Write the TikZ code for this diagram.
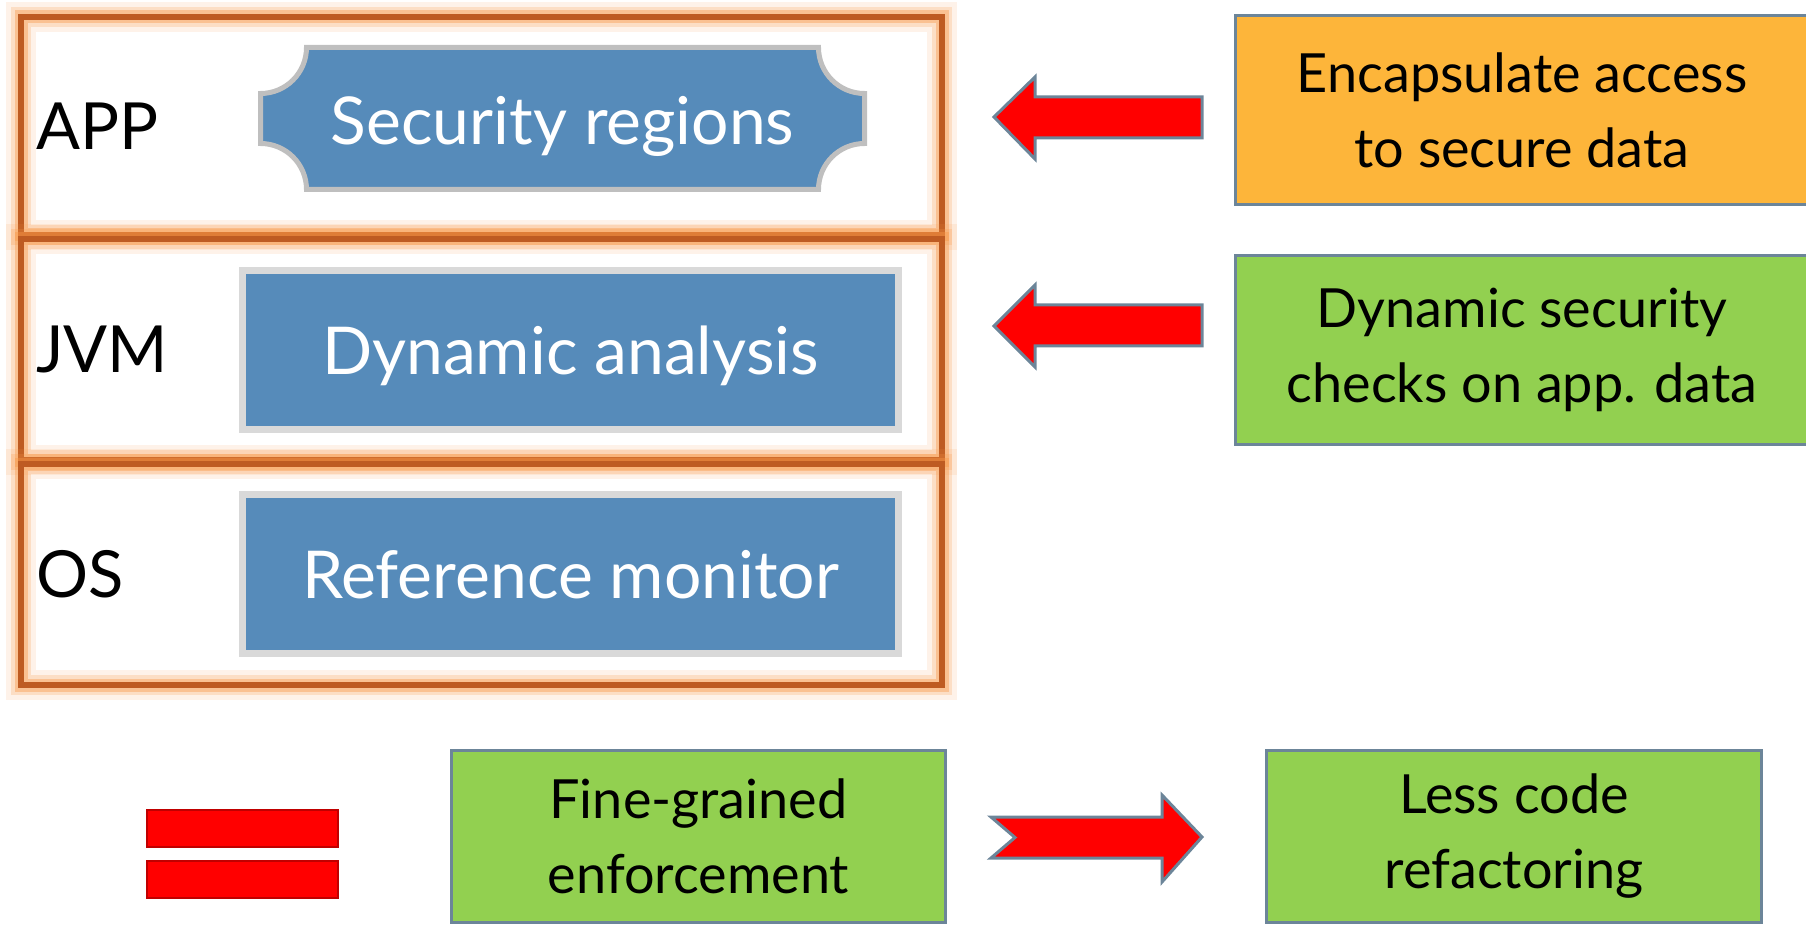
\documentclass[tikz,border=0pt]{standalone}
\usepackage{fontspec}
\setmainfont{Lato}
\usetikzlibrary{positioning}

\definecolor{layerblue}{HTML}{568BBA}
\definecolor{rimgrey}{HTML}{D9D9D9}
\definecolor{plaquegrey}{HTML}{BFBFBF}
\definecolor{slate}{HTML}{6C8599}
\definecolor{noteorange}{HTML}{FDB53A}
\definecolor{notegreen}{HTML}{92D050}
\definecolor{framebrown}{HTML}{BE5B22}
\definecolor{glow}{HTML}{F79646}
\definecolor{bardark}{HTML}{C00000}

\tikzset{
  tier/.style={rectangle, draw=framebrown, line width=3.2pt, minimum width=460.5pt, inner sep=0pt,
    preaction={draw=glow, line width=15pt, opacity=.12},
    preaction={draw=glow, line width=10pt, opacity=.22},
    preaction={draw=glow, line width=6.5pt, opacity=.40}},
  tiername/.style={font=\fontsize{32.5}{38}\selectfont, inner sep=0pt, anchor=west},
  engine/.style={rectangle, fill=layerblue, draw=rimgrey, line width=3.5pt, minimum width=328pt,
    minimum height=79.5pt, inner sep=0pt, text=white, text depth=0pt, font=\fontsize{33}{40}\selectfont},
  note/.style={rectangle, draw=slate, line width=1.5pt, inner sep=0pt, align=center,
    font=\fontsize{27}{37.5}\selectfont},
  blockarrow/.style={fill=red, draw=slate, line width=1.5pt, line join=miter},
  eqbar/.style={fill=red, draw=bardark, line width=1pt},
}

\begin{document}
\begin{tikzpicture}[x=0.5pt, y=-0.5pt]
	\useasboundingbox (0,0) rectangle (1806,925);
	% software stack
	\node[tier, minimum height=109pt] (approw) at (481.5,126) {};
	\node[tier, minimum height=110.5pt] (jvmrow) at (481.5,349.5) {};
	\node[tier, minimum height=110.5pt] (osrow) at (481.5,574.5) {};
	\node[tiername, right=9pt of approw.west] (applbl) {APP};
	\node[tiername, right=9pt of jvmrow.west] (jvmlbl) {JVM};
	\node[tiername, right=9pt of osrow.west] (oslbl) {OS};
	\draw[plaquegrey, fill=layerblue, line width=2.5pt] (306.5,47.5) -- (818.5,47.5)
		arc[start angle=180, end angle=90, radius=46] -- (864.5,143.5)
		arc[start angle=270, end angle=180, radius=46] -- (306.5,189.5)
		arc[start angle=0, end angle=-90, radius=46] -- (260.5,93.5)
		arc[start angle=90, end angle=0, radius=46] -- cycle;
	\node[text=white, text depth=0pt, font=\fontsize{33}{40}\selectfont, inner sep=0pt] (secreg) at (562.5,120) {Security regions};
	\node[engine] (dynana) at (570.5,350) {Dynamic analysis};
	\node[engine] (refmon) at (570.5,574) {Reference monitor};
	% notes on the right
	\node[note, fill=noteorange, minimum width=287pt, minimum height=94.5pt] (encap) at (1522,110) {Encapsulate access\\to secure data};
	\node[note, fill=notegreen, minimum width=287pt, minimum height=94.5pt] (dyncheck) at (1522,350) {Dynamic security\\checks on app. data};
	\draw[blockarrow] (994,117) -- (1035,77) -- (1035,97) -- (1202,97) -- (1202,138) -- (1035,138) -- (1035,159) -- cycle;
	\draw[blockarrow] (994,326) -- (1035,285) -- (1035,305) -- (1202,305) -- (1202,346) -- (1035,346) -- (1035,367) -- cycle;
	% bottom line
	\draw[eqbar] (147,810) rectangle (338,847);
	\draw[eqbar] (147,861) rectangle (338,898);
	\node[note, fill=notegreen, minimum width=247pt, minimum height=86pt] (finegr) at (698.5,836.5) {Fine-grained\\enforcement};
	\node[note, fill=notegreen, minimum width=247.5pt, minimum height=86pt] (lesscode) at (1514,836.5) {Less code\\refactoring};
	\draw[blockarrow] (991,817) -- (1162,817) -- (1162,795) -- (1202,837) -- (1162,882) -- (1162,858) -- (991,858) -- (1015,837.5) -- cycle;
\end{tikzpicture}
\end{document}
